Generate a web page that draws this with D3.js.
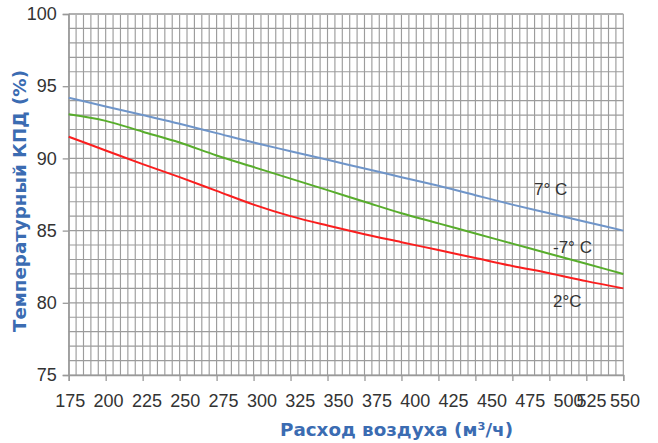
<!DOCTYPE html>
<html>
<head>
<meta charset="utf-8">
<script src="https://cdn.jsdelivr.net/npm/d3@7"></script>
<style>
  html, body { margin: 0; padding: 0; background: #fff; }
  svg { display: block; }
</style>
</head>
<body>
<svg id="chart" width="658" height="443"></svg>
<script>
// ---- data ----
const airflow = [175, 200, 225, 250, 275, 300, 325, 350, 375, 400, 425, 450, 475, 500, 525, 550];
const eff7 =    [94.2, 93.6, 93.0, 92.4, 91.75, 91.1, 90.5, 89.9, 89.3, 88.7, 88.1, 87.45, 86.8, 86.2, 85.6, 85.0];
const effM7 =   [93.05, 92.6, 91.85, 91.1, 90.2, 89.4, 88.6, 87.8, 87.0, 86.2, 85.5, 84.8, 84.1, 83.4, 82.7, 82.0];
const eff2 =    [91.5, 90.55, 89.6, 88.7, 87.75, 86.8, 86.0, 85.35, 84.75, 84.2, 83.65, 83.1, 82.55, 82.05, 81.5, 81.0];
const seriesNames = ["7° C", "-7° C", "2°C"];
const xTicks = [175, 200, 225, 250, 275, 300, 325, 350, 375, 400, 425, 450, 475, 500, 525, 550];
const yTicks = [75, 80, 85, 90, 95, 100];
const xTitle = "Расход воздуха (м³/ч)";
const yTitle = "Температурный КПД (%)";

// ---- layout ----
const W = 658, H = 443;
const L = 68.7, R = 623.3, T = 14, B = 375;
const svg = d3.select("#chart");
const x = d3.scaleLinear().domain([175, 550]).range([L, R]);
const y = d3.scaleLinear().domain([75, 100]).range([B, T]);
// tick labels in the original are not placed exactly under their ticks
const xLabel = d3.scaleLinear().domain([175, 500, 525, 550]).range([70.3, 568.6, 591.5, 625]);

const gridColor = "#9c9c9c";
const g = svg.append("g");

// vertical grid every 5 units
d3.range(175, 551, 5).forEach(v => {
  g.append("line").attr("x1", x(v)).attr("x2", x(v)).attr("y1", T).attr("y2", B)
    .attr("stroke", gridColor).attr("stroke-width", 1.15);
});
// horizontal grid every 1 unit
d3.range(75, 101, 1).forEach(v => {
  g.append("line").attr("x1", L).attr("x2", R).attr("y1", y(v)).attr("y2", y(v))
    .attr("stroke", v === 100 ? "#b0b0b0" : gridColor).attr("stroke-width", v === 100 ? 2 : 1.15);
});

const labelFont = "'Liberation Sans Narrow', 'Liberation Sans', Arial, sans-serif";

// axes
const xAxis = d3.axisBottom(x).tickValues(xTicks).tickSize(6).tickFormat("");
const yAxis = d3.axisLeft(y).tickValues(yTicks).tickSize(6).tickPadding(6).tickFormat(d3.format("d"));

const gx = svg.append("g").attr("transform", `translate(0,${B})`).call(xAxis);
const gy = svg.append("g").attr("transform", `translate(${L},0)`).call(yAxis);
[gx, gy].forEach(a => {
  a.select(".domain").attr("stroke", "#999").attr("stroke-width", 1.3);
  a.selectAll(".tick line").attr("stroke", "#999").attr("stroke-width", 1.3);
  a.selectAll(".tick text").attr("fill", "#333")
    .style("font-family", labelFont).style("font-size", "18px");
});
svg.append("g").selectAll("text").data(xTicks).join("text")
  .attr("x", d => xLabel(d)).attr("y", 406.5).attr("text-anchor", "middle")
  .attr("fill", "#333").style("font-family", labelFont).style("font-size", "18px")
  .text(d => d3.format("d")(d));

// lines
const colors = ["#6f95c9", "#58ad2c", "#fa1e1e"];
const allSeries = [eff7, effM7, eff2];
const line = d3.line().x((d, i) => x(airflow[i])).y(d => y(d)).curve(d3.curveMonotoneX);
allSeries.forEach((s, k) => {
  svg.append("path").datum(s).attr("d", line).attr("fill", "none")
    .attr("stroke", colors[k]).attr("stroke-width", 2);
});

// series labels
const labelPos = [[534, 195], [553, 253], [553, 307]];
seriesNames.forEach((n, k) => {
  svg.append("text").attr("x", labelPos[k][0]).attr("y", labelPos[k][1])
    .attr("fill", "#333")
    .style("font-family", labelFont).style("font-size", "17px")
    .text(n);
});

// titles
const titleColor = "#3b6cb2";
svg.append("text").attr("x", 396.5).attr("y", 436).attr("text-anchor", "middle")
  .attr("fill", titleColor).style("font-family", "'DejaVu Sans', sans-serif")
  .style("font-weight", "bold").style("font-size", "18px")
  .attr("textLength", 233).attr("lengthAdjust", "spacingAndGlyphs").text(xTitle);
svg.append("text").attr("transform", "translate(26,201) rotate(-90)").attr("text-anchor", "middle")
  .attr("fill", titleColor).style("font-family", "'DejaVu Sans', sans-serif")
  .style("font-weight", "bold").style("font-size", "18px")
  .attr("textLength", 262).attr("lengthAdjust", "spacingAndGlyphs").text(yTitle);
</script>
</body>
</html>
